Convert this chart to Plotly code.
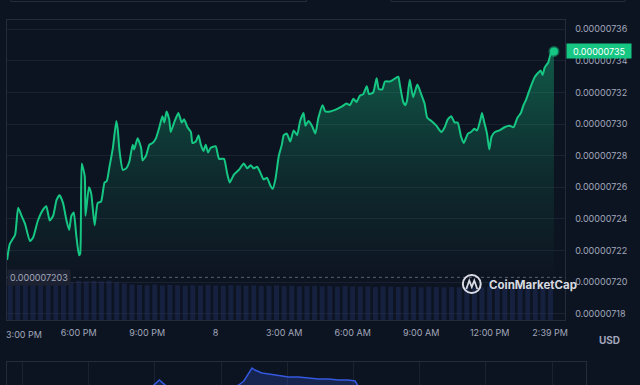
import pandas as pd
import plotly.graph_objects as go

# ---------------- data ----------------
# minutes after 3:00 PM (day 7) and price in units of 1e-8 USD
minutes_from_3pm = [
    -8, -1, 13, 21, 30, 39, 52, 60, 73, 87, 95, 104, 113, 122, 130, 139, 148, 155, 161, 167,
    174, 181, 184, 188, 196, 198, 207, 213, 222, 230, 239, 248, 254, 261, 270, 279,
    283, 287, 296, 305, 313, 322, 326, 335, 344, 348, 357, 366, 374, 383, 392, 400, 405, 411,
    418, 422, 431, 442, 451, 457, 466, 475, 479, 488, 495, 501, 508, 514, 520, 527, 540, 549,
    562, 570, 577, 588, 601, 614, 623, 632, 640, 649, 658, 666, 675, 684, 690, 697, 706, 714,
    719, 727, 736, 745, 754, 762, 771, 776, 784, 793, 802, 810, 821, 828, 841,
    854, 871, 884, 893, 902, 910, 919, 928, 937, 943, 954, 963, 969, 978, 985, 998, 1006,
    1020, 1024, 1033, 1039, 1043, 1050, 1059, 1070, 1080, 1089, 1096, 1107, 1120, 1133, 1142,
    1150, 1159, 1168, 1176, 1185, 1192, 1203, 1211, 1220, 1227, 1236, 1240, 1246, 1253, 1259,
    1265, 1274, 1286, 1299, 1312, 1323, 1333, 1342, 1349, 1355, 1361, 1370, 1379, 1386, 1394,
    1399, 1405, 1414, 1420, 1429,
]
price_1e8 = [
    721.4, 722.4, 723.0, 724.7, 724.2, 723.7, 722.6, 722.8, 723.9, 724.6, 724.8, 723.9, 724.2, 725.2, 725.5, 725.0, 723.9, 723.3, 724.2, 724.4,
    722.9, 721.7, 721.8, 727.5, 726.7, 724.2, 726.0, 725.6, 723.6, 725.0, 725.1, 726.3, 726.4, 727.3, 728.5, 730.2,
    729.6, 728.4, 727.1, 727.2, 727.6, 728.7, 728.4, 729.1, 728.5, 727.7, 728.0, 728.7, 728.8, 729.1, 729.8, 730.5, 730.1, 730.8,
    730.3, 729.5, 730.1, 730.7, 730.1, 730.3, 729.8, 729.5, 728.8, 728.9, 729.3, 728.7, 728.3, 728.7, 728.2, 728.5, 728.6, 727.8,
    727.8, 726.9, 726.3, 726.8, 727.1, 727.5, 727.2, 727.4, 727.2, 727.3, 726.9, 726.5, 726.6, 726.1, 725.9, 726.5, 728.0, 728.7,
    729.3, 729.4, 728.9, 729.6, 729.3, 730.2, 730.7, 729.9, 730.2, 729.9, 729.4, 730.4, 731.2, 730.8, 730.8,
    730.9, 731.1, 731.3, 731.2, 731.6, 731.4, 731.8, 731.9, 732.4, 731.9, 732.0, 732.9, 732.2, 732.2, 732.7, 732.7, 732.8,
    733.0, 732.5, 731.4, 731.2, 731.5, 732.8, 731.7, 732.5, 731.9, 731.3, 730.4, 730.2, 729.9, 729.5, 729.8,
    730.3, 730.5, 730.1, 730.1, 729.2, 728.8, 729.4, 729.5, 729.7, 729.6, 730.3, 730.7, 730.1, 729.4, 728.4,
    729.2, 729.5, 729.6, 729.8, 729.9, 729.8, 730.4, 730.7, 731.2, 731.5, 731.9, 732.5, 733.0, 733.2, 733.4,
    733.1, 733.6, 733.9, 734.4, 734.6,
]
open_price = 0.000007203

# volume bars (relative heights), one every 20 minutes
volume = [
    13.0, 12.8, 13.1, 12.9, 13.0, 13.2, 12.9, 13.0, 12.7, 13.1, 12.9, 13.0, 12.8, 13.1, 12.6, 12.2,
    11.8, 11.7, 11.6, 11.8, 11.5, 11.7, 11.6, 11.4, 11.6, 11.5, 11.7, 11.5, 11.4, 11.6, 11.5, 11.4,
    11.5, 11.3, 11.4, 11.5, 11.3, 11.4, 11.2, 11.3, 11.4, 11.2, 11.3, 11.1, 11.3, 11.2, 11.1, 11.2,
    11.0, 11.2, 11.1, 11.0, 11.1, 11.0, 10.9, 11.1, 11.0, 10.9, 11.0, 10.9, 11.0, 10.8, 10.9, 11.0,
    10.9, 10.8, 10.9, 10.8, 10.9, 10.8, 10.8, 10.9,
]

# navigator overview series (position along the navigator, 0-100; visible height)
nav_pos = [0, 20, 25.0, 26.3, 27.5, 29, 39.0, 40.0, 40.9, 41.8, 42.3, 42.8, 43.5, 44.0, 45.2, 46.4,
           47.8, 48.6, 50.3, 52.1, 53.8, 55.5, 57.2, 58.9, 60.1, 60.7, 62, 100]
nav_val = [-5, -5, -2, 5, -1, -5, -3, 0, 4, 12, 17, 15, 13, 12, 11, 10,
           9, 8, 8, 7, 6, 6, 5, 5, 4, -2, -5, -5]

tick_minutes = [0, 180, 360, 540, 720, 900, 1080, 1260, 1419]
tick_labels = ["3:00 PM", "6:00 PM", "9:00 PM", "8", "3:00 AM", "6:00 AM", "9:00 AM", "12:00 PM", "2:39 PM"]
price_ticks_1e8 = [718, 720, 722, 724, 726, 728, 730, 732, 734, 736]

# ---------------- build ----------------
base = pd.Timestamp("2023-05-07 15:00")
times = [base + pd.Timedelta(minutes=m) for m in minutes_from_3pm]
prices = [p * 1e-8 for p in price_1e8]
vol_times = [base + pd.Timedelta(minutes=20 * i) for i in range(len(volume))]
tick_times = [base + pd.Timedelta(minutes=m) for m in tick_minutes]

W, H = 640, 385
BG = "#0d1421"
GRID = "#1c2131"
FRAME = "#262b3c"
TXT = "#a1a7bb"
GREEN = "#16c784"
FONT = "Inter"
FS = 9

def px(x):
    return x / W

def py(y):
    return 1 - y / H

fig = go.Figure()

# volume bars (behind)
fig.add_trace(go.Bar(
    x=vol_times, y=volume, xaxis="x", yaxis="y2",
    marker=dict(color="rgba(38,52,110,0.40)", line=dict(width=0)),
    hoverinfo="skip",
))

# price area
fig.add_trace(go.Scatter(
    x=times, y=prices, xaxis="x", yaxis="y", mode="lines",
    line=dict(color=GREEN, width=2, shape="spline", smoothing=0.5),
    fill="tozeroy",
    fillgradient=dict(
        type="vertical",
        colorscale=[[0, "rgba(22,199,132,0.0)"], [0.5, "rgba(22,199,132,0.13)"], [1, "rgba(22,199,132,0.35)"]],
        start=720.3e-8, stop=733.5e-8,
    ),
    hoverinfo="skip",
))

# end point dot
fig.add_trace(go.Scatter(
    x=[times[-1]], y=[prices[-1]], xaxis="x", yaxis="y", mode="markers",
    marker=dict(color=GREEN, size=8, line=dict(color="rgba(22,199,132,0.45)", width=3)),
    hoverinfo="skip",
))

# navigator
fig.add_trace(go.Scatter(
    x=nav_pos, y=nav_val, xaxis="x3", yaxis="y3", mode="lines",
    line=dict(color="#3458e0", width=1.5),
    fill="tozeroy", fillcolor="rgba(56,97,251,0.22)",
    hoverinfo="skip",
))

x_left = base + pd.Timedelta(minutes=(7 - 10.2) * 2.6155)
x_right = base + pd.Timedelta(minutes=(568 - 10.2) * 2.6155)

y_bot = 736 - (320 - 29.3) / 15.8
y_top = 736 + (29.3 - 20) / 15.8

fig.update_layout(
    width=W, height=H,
    margin=dict(l=0, r=0, t=0, b=0),
    paper_bgcolor=BG, plot_bgcolor=BG,
    showlegend=False,
    bargap=0.35,
    font=dict(family=FONT, color=TXT, size=FS),
    xaxis=dict(
        domain=[px(7), px(568)], type="date", range=[x_left, x_right],
        tickvals=tick_times[1:], ticktext=tick_labels[1:],
        showgrid=False, zeroline=False,
        showline=True, mirror=True, linecolor=FRAME, linewidth=1,
        ticks="outside", ticklen=4, tickcolor="rgba(0,0,0,0)",
        tickfont=dict(family=FONT, size=FS, color=TXT),
        anchor="y", fixedrange=True,
    ),
    yaxis=dict(
        domain=[py(320), py(20)], range=[y_bot * 1e-8, y_top * 1e-8],
        side="right",
        tickvals=[t * 1e-8 for t in price_ticks_1e8], tickformat=".8f",
        showgrid=True, gridcolor=GRID, gridwidth=1, zeroline=False,
        showline=True, mirror=True, linecolor=FRAME, linewidth=1,
        ticks="outside", ticklen=7, tickcolor="rgba(0,0,0,0)",
        tickfont=dict(family=FONT, size=FS, color=TXT),
        anchor="x", fixedrange=True,
    ),
    yaxis2=dict(overlaying="y", range=[0, 100], visible=False, fixedrange=True),
    xaxis3=dict(
        domain=[px(7), px(589)], range=[0, 100], anchor="y3",
        showgrid=True, gridcolor=GRID, tick0=14.1, dtick=11.43,
        showticklabels=False, zeroline=False,
        showline=True, mirror=True, linecolor=FRAME, fixedrange=True,
    ),
    yaxis3=dict(
        domain=[0, py(362)], range=[0, 23], anchor="x3",
        showgrid=False, showticklabels=False, zeroline=False,
        showline=True, mirror=True, linecolor=FRAME, fixedrange=True,
    ),
)

annotations = [
    # first time label (kept inside the frame)
    dict(x=px(24), y=py(334), xref="paper", yref="paper", text=tick_labels[0],
         xanchor="center", yanchor="middle",
         showarrow=False, font=dict(family=FONT, size=FS, color=TXT)),
    # current price tag
    dict(x=px(568.5), y=prices[-1], xref="paper", yref="y", xanchor="left", yanchor="middle",
         text=f"{prices[-1]:.8f}", showarrow=False, bgcolor=GREEN, width=62, height=12, borderpad=1,
         font=dict(family=FONT, size=FS, color="#ffffff")),
    # open price tag
    dict(x=px(7.5), y=open_price, xref="paper", yref="y", xanchor="left", yanchor="middle",
         text=f"{open_price:.9f}", showarrow=False, bgcolor="#1d2232", borderpad=2,
         font=dict(family=FONT, size=FS, color=TXT)),
    # currency
    dict(x=px(612), y=py(340), xref="paper", yref="paper", text="<b>USD</b>",
         xanchor="center", yanchor="middle",
         showarrow=False, font=dict(family=FONT, size=10, color=TXT)),
    # watermark
    dict(x=px(489), y=py(285), xref="paper", yref="paper", xanchor="left", yanchor="middle",
         text="<b>CoinMarketCap</b>",
         showarrow=False, font=dict(family=FONT, size=11.5, color="rgba(235,238,245,0.92)")),
]
fig.update_layout(annotations=annotations)

shapes = [
    # open price dotted line
    dict(type="line", xref="paper", yref="y", x0=px(7), x1=px(568), y0=open_price, y1=open_price,
         line=dict(color="#5b6072", width=1, dash="dot")),
    # watermark logo
    dict(type="circle", xref="paper", yref="paper", x0=px(465), x1=px(483), y0=py(293), y1=py(275),
         line=dict(color="rgba(235,238,245,0.92)", width=2)),
    dict(type="path", xref="paper", yref="paper",
         path=f"M {px(468.5)},{py(289)} L {px(471.5)},{py(280.5)} L {px(474)},{py(287)} L {px(476.5)},{py(280.5)} L {px(479.5)},{py(289)}",
         line=dict(color="rgba(235,238,245,0.92)", width=1.8)),
    # cut-off UI buttons at top
    dict(type="rect", xref="paper", yref="paper", x0=px(11), x1=px(308), y0=py(1.5), y1=py(-12),
         line=dict(color=FRAME, width=1)),
    dict(type="rect", xref="paper", yref="paper", x0=px(393), x1=px(628), y0=py(1.5), y1=py(-12),
         line=dict(color=FRAME, width=1)),
]
fig.update_layout(shapes=shapes)

fig.write_html(
    "out.html",
    config={"displayModeBar": False},
    post_script="document.body.style.margin='0px';document.body.style.padding='0px';"
                "document.body.style.background='" + BG + "';",
)
